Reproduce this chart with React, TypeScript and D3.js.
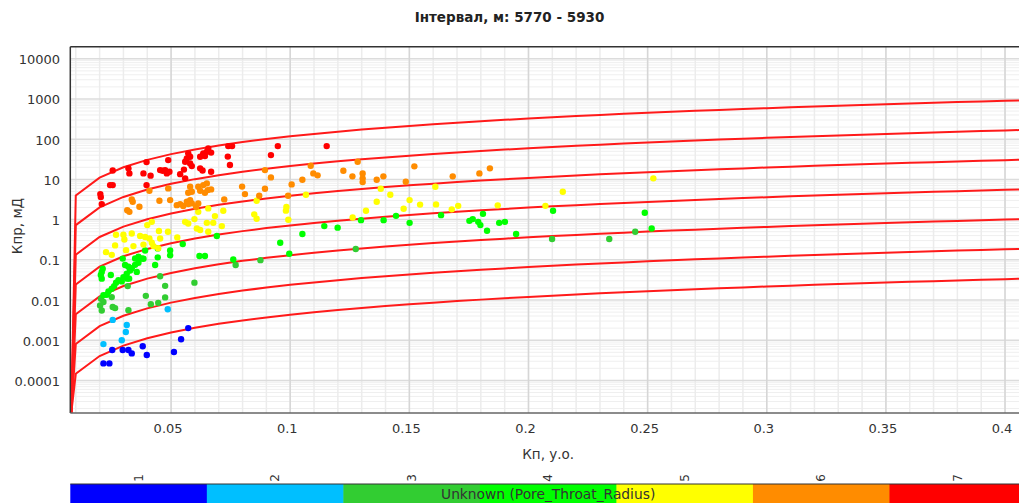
import React from 'react';
import * as d3 from 'd3';

// ---- chart data -------------------------------------------------------------

const chartTitle = 'Інтервал, м: 5770 - 5930';
const xAxisTitle = 'Кп, у.о.';
const yAxisTitle = 'Кпр, мД';
const legendTitle = 'Unknown (Pore_Throat_Radius)';

const xTickValues = [0.05, 0.1, 0.15, 0.2, 0.25, 0.3, 0.35, 0.4];
const xTickLabels = ['0.05', '0.1', '0.15', '0.2', '0.25', '0.3', '0.35', '0.4'];
const yTickValues = [0.0001, 0.001, 0.01, 0.1, 1, 10, 100, 1000, 10000];
const yTickLabels = ['0.0001', '0.001', '0.01', '0.1', '1', '10', '100', '1000', '10000'];

const classLabels = ['1', '2', '3', '4', '5', '6', '7'];
const classColors = ['#0000ff', '#00bfff', '#32cd32', '#00ff00', '#ffff00', '#ff8c00', '#ff0000'];

// pore-throat radius boundaries (µm) of the Winland R35 iso-lines
const throatRadii = [12.18, 4.48, 1.65, 0.607, 0.223, 0.082, 0.03];
// Winland R35: log r = 0.732 + 0.588 log k - 0.864 log φ(%)
const winlandA = 0.732;
const winlandB = 0.588;
const winlandC = 0.864;
// porosity nodes of the iso-lines; the first node sits on the lower edge
const curveStartPorosity = 0.0081;
const curvePorosity = d3.range(1, 43).map((i) => i / 100);

// samples: [porosity, permeability mD], grouped by pore-throat class
const class1: [number, number][] = [
  [0.0572, 0.002], [0.0542, 0.00106], [0.0253, 0.00057], [0.0297, 0.00057], [0.0321, 0.00057],
  [0.0335, 0.00047], [0.0381, 0.00071], [0.0398, 0.00043], [0.0512, 0.00051], [0.0216, 0.000265],
  [0.0241, 0.000265],
];
const class2: [number, number][] = [
  [0.0486, 0.0059], [0.0255, 0.0032], [0.0314, 0.0024], [0.031, 0.0016], [0.0293, 0.001],
  [0.0216, 0.0008],
];
const class3: [number, number][] = [
  [0.0206, 0.0107], [0.0216, 0.0089], [0.0202, 0.0073], [0.0209, 0.0055], [0.0251, 0.0118],
  [0.0255, 0.0067], [0.0265, 0.0063], [0.0321, 0.0056], [0.0394, 0.0127], [0.0415, 0.0079],
  [0.0446, 0.0085], [0.0454, 0.039], [0.0475, 0.0225], [0.0475, 0.0116], [0.0598, 0.027],
  [0.0318, 0.0222], [0.0771, 0.074], [0.0875, 0.098], [0.1275, 0.185], [0.2099, 0.33],
  [0.2339, 0.33], [0.2448, 0.5],
];
const class4: [number, number][] = [
  [0.0209, 0.05], [0.0205, 0.042], [0.0209, 0.034], [0.0213, 0.06], [0.0247, 0.042],
  [0.0391, 0.171], [0.0384, 0.106], [0.0363, 0.084], [0.0349, 0.075], [0.0335, 0.062],
  [0.0328, 0.054], [0.0314, 0.045], [0.0316, 0.034], [0.03, 0.037], [0.0293, 0.029],
  [0.0279, 0.031], [0.0269, 0.027], [0.0261, 0.0222], [0.0251, 0.019], [0.0237, 0.0164],
  [0.023, 0.0135], [0.0216, 0.0132], [0.0297, 0.107], [0.0307, 0.074], [0.0321, 0.067],
  [0.0349, 0.108], [0.0363, 0.119], [0.0377, 0.108], [0.0356, 0.05], [0.0324, 0.034],
  [0.0444, 0.192], [0.0444, 0.115], [0.0433, 0.074], [0.0496, 0.171], [0.0496, 0.129],
  [0.0549, 0.246], [0.0619, 0.124], [0.0642, 0.124], [0.0692, 0.39], [0.0761, 0.102],
  [0.0958, 0.265], [0.1051, 0.44], [0.1143, 0.69], [0.1199, 0.63], [0.1297, 0.97],
  [0.1392, 0.97], [0.1444, 1.24], [0.1501, 0.83], [0.0996, 0.141], [0.1633, 1.29],
  [0.1752, 0.93], [0.1766, 1.03], [0.1789, 0.88], [0.1798, 0.73], [0.1809, 1.39],
  [0.1826, 0.53], [0.1877, 0.83], [0.1901, 0.88], [0.1948, 0.44], [0.2103, 1.66],
  [0.2488, 1.48], [0.2517, 0.6],
];
const class5: [number, number][] = [
  [0.0419, 0.88], [0.04, 0.73], [0.0449, 0.52], [0.0487, 0.5], [0.0269, 0.42],
  [0.03, 0.42], [0.0304, 0.32], [0.0335, 0.45], [0.037, 0.39], [0.0391, 0.37],
  [0.0409, 0.34], [0.0454, 0.34], [0.0265, 0.228], [0.0342, 0.219], [0.0384, 0.239],
  [0.0419, 0.265], [0.0426, 0.219], [0.0227, 0.155], [0.0251, 0.133], [0.0311, 0.174],
  [0.0446, 0.195], [0.0526, 0.36], [0.0559, 0.88], [0.0572, 0.8], [0.0598, 1.03],
  [0.0608, 0.6], [0.0622, 0.55], [0.065, 0.83], [0.0656, 0.5], [0.0677, 0.83],
  [0.0713, 0.69], [0.0614, 1.56], [0.0656, 1.9], [0.0684, 1.22], [0.0719, 1.66],
  [0.0859, 2.94], [0.0849, 1.35], [0.0859, 1.05], [0.0984, 2.05], [0.0982, 1.67],
  [0.0992, 0.99], [0.1066, 4.14], [0.1262, 1.13], [0.1318, 1.66], [0.1363, 2.77],
  [0.138, 5.84], [0.142, 4.14], [0.1476, 1.86], [0.1501, 3.05], [0.1545, 2.36],
  [0.1609, 6.55], [0.1612, 2.39], [0.1678, 1.8], [0.1705, 2.2], [0.1871, 2.26],
  [0.2071, 2.2], [0.2144, 4.92], [0.2524, 10.6],
];
const class6: [number, number][] = [
  [0.0409, 5.2], [0.0488, 5.97], [0.0335, 3.18], [0.0339, 2.77], [0.0316, 1.72],
  [0.0325, 1.56], [0.0367, 2.08], [0.0451, 2.94], [0.0496, 3.05], [0.0524, 2.29],
  [0.0538, 2.43], [0.0551, 2.17], [0.0566, 2.77], [0.058, 3.05], [0.0572, 2.43],
  [0.0587, 2.53], [0.0614, 2.53], [0.0605, 2.05], [0.058, 6.55], [0.0587, 4.92],
  [0.0572, 4.64], [0.0614, 6.55], [0.0635, 7.21], [0.065, 7.95], [0.0622, 5.2],
  [0.0642, 4.64], [0.0654, 5.42], [0.0668, 5.64], [0.0723, 3.18], [0.0798, 6.62],
  [0.081, 4.31], [0.087, 3.91], [0.0894, 5.84], [0.0894, 17.0], [0.0919, 11.2],
  [0.1006, 7.51], [0.1051, 9.78], [0.1086, 21.8], [0.1097, 14.1], [0.1115, 12.6],
  [0.0991, 3.91], [0.1223, 16.4], [0.1261, 11.9], [0.1283, 27.4], [0.1304, 14.1],
  [0.1304, 10.6], [0.1304, 8.57], [0.1363, 9.78], [0.1391, 11.9], [0.1485, 8.71],
  [0.1521, 21.1], [0.1682, 11.9], [0.1794, 14.1], [0.1838, 18.8],
];
const class7: [number, number][] = [
  [0.0255, 16.6], [0.0321, 18.8], [0.0325, 14.1], [0.0397, 26.9], [0.0384, 14.1],
  [0.0414, 12.4], [0.0454, 17.0], [0.0465, 16.4], [0.0475, 17.0], [0.0482, 14.1],
  [0.0493, 15.5], [0.0244, 7.21], [0.0255, 7.21], [0.0397, 7.21], [0.0203, 4.31],
  [0.0205, 3.63], [0.0209, 2.43], [0.0488, 30.2], [0.0538, 13.5], [0.0554, 17.5],
  [0.0559, 10.6], [0.0572, 44.4], [0.058, 36.5], [0.0566, 33.3], [0.0559, 27.4],
  [0.058, 25.0], [0.0587, 21.4], [0.0622, 36.5], [0.0635, 44.4], [0.065, 48.6],
  [0.0656, 59.0], [0.0642, 38.0], [0.0668, 46.4], [0.074, 67.3], [0.0756, 67.3],
  [0.0738, 36.9], [0.0747, 22.7], [0.0622, 18.8], [0.0632, 16.6], [0.0668, 15.5],
  [0.0948, 67.3], [0.0919, 40.2], [0.1153, 67.3],
];
const classSamples = [class1, class2, class3, class4, class5, class6, class7];

// ---- layout -----------------------------------------------------------------

const W = 1019;
const H = 503;
const plotLeft = 70.3;
const plotRight = 1026;
const plotTop = 46.7;
const plotBottom = 413;
const phiDomain: [number, number] = [0.0077, 0.4088];
const permDomain: [number, number] = [Math.pow(10, -4.81), Math.pow(10, 4.3)];
const legendTop = 484;
const font = '"DejaVu Sans", Verdana, sans-serif';

export default function App() {
  const x = d3.scaleLinear().domain(phiDomain).range([plotLeft, plotRight]);
  const y = d3.scaleLog().domain(permDomain).range([plotBottom, plotTop]);

  // grid positions
  const xMinor = d3.range(1, 41).map((i) => i / 100);
  const decades = d3.range(-4, 5);
  const yMinor: number[] = [];
  d3.range(-5, 5).forEach((e) => {
    for (let m = 2; m <= 9; m++) {
      const v = m * Math.pow(10, e);
      if (v > permDomain[0] && v < permDomain[1]) yMinor.push(v);
    }
  });

  const winlandPerm = (r: number, phi: number) =>
    Math.pow(10, (Math.log10(r) - winlandA + winlandC * Math.log10(phi * 100)) / winlandB);

  const line = d3
    .line<[number, number]>()
    .x((d) => x(d[0]))
    .y((d) => y(d[1]));

  const curves = throatRadii.map((r) => {
    const pts: [number, number][] = [[curveStartPorosity, permDomain[0]]];
    curvePorosity.forEach((p) => pts.push([p, winlandPerm(r, p)]));
    return line(pts) || '';
  });

  const segW = (plotRight - plotLeft) / classLabels.length;

  return (
    <svg
      width={W}
      height={H}
      style={{ position: 'absolute', left: 0, top: 0, background: '#fff', fontFamily: font }}
    >
      <defs>
        <clipPath id="plot-area">
          <rect x={plotLeft} y={plotTop} width={plotRight - plotLeft} height={plotBottom - plotTop} />
        </clipPath>
      </defs>
      <rect x={0} y={0} width={W} height={H} fill="#fff" />

      <text x={W / 2} y={17} textAnchor="middle" dominantBaseline="central" fontWeight="bold" fontSize={13.5} fill="#222">
        {chartTitle}
      </text>

      {/* grid */}
      <g>
        {yMinor.map((v, i) => (
          <line key={'ym' + i} x1={plotLeft} x2={plotRight} y1={y(v)} y2={y(v)} stroke="#efefef" strokeWidth={1} />
        ))}
        {xMinor.map((v, i) => (
          <line key={'xm' + i} x1={x(v)} x2={x(v)} y1={plotTop} y2={plotBottom} stroke="#ececec" strokeWidth={1.5} />
        ))}
        {decades.map((e) => (
          <line key={'yd' + e} x1={plotLeft} x2={plotRight} y1={y(Math.pow(10, e))} y2={y(Math.pow(10, e))} stroke="#dcdcdc" strokeWidth={1.5} />
        ))}
        {xTickValues.map((v, i) => (
          <line key={'xM' + i} x1={x(v)} x2={x(v)} y1={plotTop} y2={plotBottom} stroke="#d6d6d6" strokeWidth={1.5} />
        ))}
      </g>

      {/* iso-lines of pore-throat radius */}
      <g clipPath="url(#plot-area)">
        {curves.map((d, i) => (
          <path key={'c' + i} d={d} fill="none" stroke="#ff1a1a" strokeWidth={2} />
        ))}
      </g>

      {/* samples */}
      <g clipPath="url(#plot-area)">
        {classSamples.map((pts, ci) =>
          pts.map((p, i) => (
            <circle key={ci + '-' + i} cx={x(p[0])} cy={y(p[1])} r={3.2} fill={classColors[ci]} />
          ))
        )}
      </g>

      {/* frame */}
      <line x1={plotLeft} x2={plotLeft} y1={plotTop} y2={plotBottom} stroke="#333" strokeWidth={1.5} />
      <line x1={plotLeft} x2={plotRight} y1={plotTop} y2={plotTop} stroke="#333" strokeWidth={1.5} />
      <line x1={plotLeft} x2={plotRight} y1={plotBottom} y2={plotBottom} stroke="#666" strokeWidth={1.5} />

      {/* axis labels */}
      {yTickValues.map((v, i) => (
        <text key={'yl' + i} x={60} y={y(v) + 1} textAnchor="end" dominantBaseline="central" fontSize={13} fill="#333">
          {yTickLabels[i]}
        </text>
      ))}
      {xTickValues.map((v, i) => (
        <text key={'xl' + i} x={x(v) - 3} y={428} textAnchor="middle" dominantBaseline="central" fontSize={13} fill="#333">
          {xTickLabels[i]}
        </text>
      ))}
      <text x={(plotLeft + plotRight) / 2} y={454} textAnchor="middle" dominantBaseline="central" fontSize={13.5} fill="#333">
        {xAxisTitle}
      </text>
      <text
        transform={`translate(17, 226) rotate(-90)`}
        textAnchor="middle"
        dominantBaseline="central"
        fontSize={13.5}
        fill="#333"
      >
        {yAxisTitle}
      </text>

      {/* colour legend */}
      {classLabels.map((lab, i) => (
        <g key={'lg' + i}>
          <rect x={plotLeft + i * segW} y={legendTop} width={segW + 0.5} height={H - legendTop + 5} fill={classColors[i]} />
          <text
            transform={`translate(${plotLeft + (i + 0.5) * segW}, 478) rotate(-90)`}
            textAnchor="middle"
            dominantBaseline="central"
            fontSize={12}
            fill="#333"
          >
            {lab}
          </text>
        </g>
      ))}
      <line x1={plotLeft} x2={plotRight} y1={legendTop} y2={legendTop} stroke="#333" strokeWidth={1} />
      <text x={(plotLeft + plotRight) / 2} y={494} textAnchor="middle" dominantBaseline="central" fontSize={13.8} fill="#333">
        {legendTitle}
      </text>
    </svg>
  );
}
